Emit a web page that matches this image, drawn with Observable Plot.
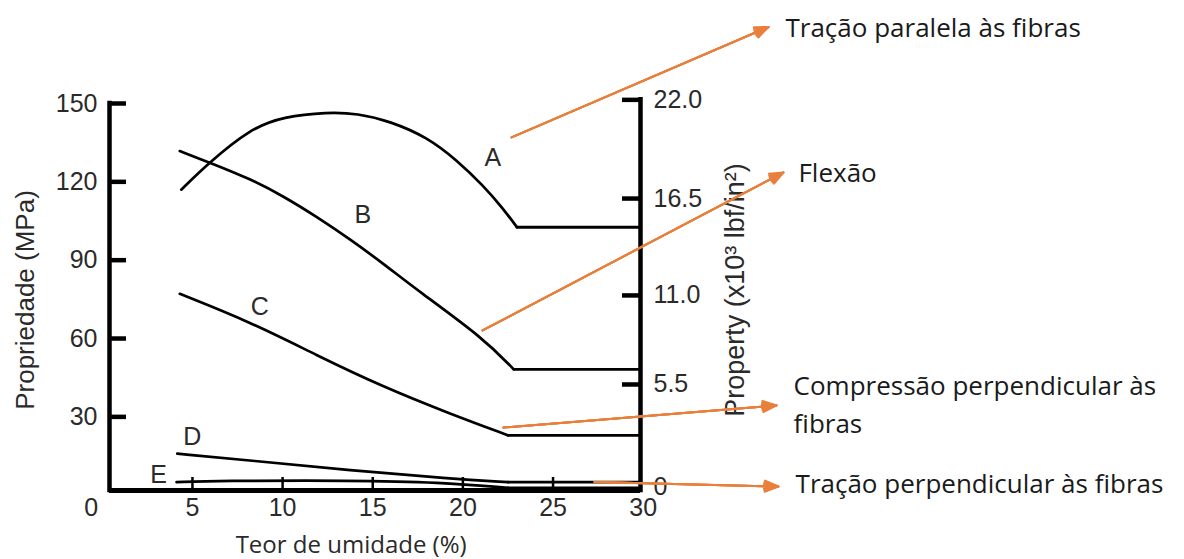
<!DOCTYPE html>
<html>
<head>
<meta charset="utf-8">
<script src="https://cdn.jsdelivr.net/npm/d3@7"></script>
<script src="https://cdn.jsdelivr.net/npm/@observablehq/plot@0.6"></script>
<style>
  html, body { margin: 0; padding: 0; background: #ffffff; }
  #chart svg { display: block; }
</style>
</head>
<body>
<div id="chart"></div>
<script>
// ---------- data ----------
const xDomain = [0.4, 29.85];          // moisture content (%) at left / right axis lines
const yDomain = [1.8, 150];            // MPa at baseline / top of left axis

const xTicks = [5, 10, 15, 20, 25];
const xLabelValues = [5, 10, 15, 20, 25, 30];
const xZeroLabel = [0];

const leftTicks = [30, 60, 90, 120, 150];

const rightTickLabels = ["0", "5.5", "11.0", "16.5", "22.0"];
const rightTickAt = [3.1, 42.4, 76.5, 113.6, 151.4];   // MPa position of each lbf/in² tick

// curve A: tração paralela às fibras
const aX = [4.38, 5.89, 8.22, 10.05, 12.49, 14.15, 15.97, 18.02, 19.68, 21.12, 22.23, 23.0, 29.85];
const aY = [117.0, 127.2, 140.4, 145.0, 146.7, 146.2, 143.2, 137.1, 128.2, 118.6, 109.8, 102.6, 102.6];
// curve B: flexão
const bX = [4.30, 5.91, 8.22, 10.07, 11.92, 13.77, 15.62, 17.47, 21.16, 22.82, 29.85];
const bY = [131.8, 127.5, 121.1, 114.4, 106.5, 97.9, 88.5, 78.5, 60.0, 48.2, 48.2];
// curve C
const cX = [4.30, 8.22, 11.91, 15.6, 19.29, 22.52, 29.85];
const cY = [77.1, 66.3, 53.5, 41.4, 31.2, 22.9, 22.9];
// curve D
const dX = [4.16, 8.22, 13.75, 19.29, 22.52, 29.85];
const dY = [15.9, 13.3, 9.5, 6.3, 5.0, 5.0];
// curve E
const eX = [4.12, 6.37, 13.75, 18.74, 22.5, 29.85];
const eY = [5.0, 5.6, 5.6, 5.0, 2.8, 2.8];

const curveNames = ["A", "B", "C", "D", "E"];
const curveLabelX = [21.66, 14.45, 8.73, 4.99, 3.12];
const curveLabelY = [129.1, 107.3, 72.2, 22.2, 7.66];

// orange annotation arrows and texts
const arrowX1 = [22.70, 21.09, 22.25, 27.3];
const arrowY1 = [137.0, 63.1, 25.9, 5.06];
const arrowX2 = [36.95, 37.78, 37.39, 37.5];
const arrowY2 = [179.3, 123.6, 34.4, 3.33];

const noteTexts = ["Tração paralela às fibras", "Flexão", "Compressão perpendicular às", "fibras", "Tração perpendicular às fibras"];
const noteX = [37.89, 38.61, 38.34, 38.34, 38.45];
const noteY = [178.6, 123.1, 41.4, 27.2, 4.2];

const xTitle = "Teor de umidade (%)";
const xTitleAt = 13.8;
const yTitleLeft = "Propriedade (MPa)";
const yTitleRight = "Property (x10³ lbf/in²)";

// ---------- build tables ----------
const seriesX = [aX, bX, cX, dX, eX];
const seriesY = [aY, bY, cY, dY, eY];
const curveRows = [];
const flatRows = [];
curveNames.forEach((name, i) => {
  const xs = seriesX[i], ys = seriesY[i], n = xs.length;
  for (let j = 0; j < n - 1; j++) curveRows.push({key: name, x: xs[j], y: ys[j]});
  for (let j = n - 2; j < n; j++) flatRows.push({key: name, x: xs[j], y: ys[j]});
});
const curveLabels = curveNames.map((t, i) => ({t, x: curveLabelX[i], y: curveLabelY[i]}));
const arrows = arrowX1.map((_, i) => ({x1: arrowX1[i], y1: arrowY1[i], x2: arrowX2[i], y2: arrowY2[i]}));
const notes = noteTexts.map((t, i) => ({t, x: noteX[i], y: noteY[i]}));
const rightTicks = rightTickLabels.map((t, i) => ({t, y: rightTickAt[i]}));

// ---------- layout ----------
const W = 1184, H = 559;
const mL = 109, mR = 544, mT = 103, mB = 69;
const plotW = W - mL - mR, plotH = H - mT - mB;

const sans = "Liberation Sans, Arial, Helvetica, sans-serif";
const noteFont = "Open Sans, Noto Sans, sans-serif";
const ink = "#2a2a2a";
const orange = "#e8803c";

// overlaid arrowheads of decreasing angle give a filled-looking triangle
const headAngles = [45, 32, 20, 8];
const arrowMarks = headAngles.map(a => Plot.arrow(arrows, {
  x1: "x1", y1: "y1", x2: "x2", y2: "y2", stroke: orange, strokeWidth: 2,
  headLength: 11, headAngle: a
}));

const chart = Plot.plot({
  width: W, height: H,
  marginLeft: mL, marginRight: mR, marginTop: mT, marginBottom: mB,
  x: {domain: xDomain, axis: null},
  y: {domain: yDomain, axis: null},
  style: {background: "#ffffff", overflow: "visible"},
  marks: [
    // curves
    Plot.line(curveRows, {x: "x", y: "y", z: "key", curve: "basis", stroke: "#000", strokeWidth: 2.7}),
    Plot.line(flatRows, {x: "x", y: "y", z: "key", stroke: "#000", strokeWidth: 2.9}),
    // axes lines
    Plot.ruleX([xDomain[0]], {y1: yDomain[0], y2: d3.max(leftTicks), stroke: "#000", strokeWidth: 4.5, strokeLinecap: "square"}),
    Plot.ruleX([xDomain[1]], {y1: yDomain[0], y2: d3.max(rightTickAt), stroke: "#000", strokeWidth: 4.5, strokeLinecap: "square"}),
    Plot.ruleY([yDomain[0]], {x1: xDomain[0], x2: xDomain[1], stroke: "#000", strokeWidth: 5}),
    // ticks
    Plot.tickY(leftTicks, {y: d => d, insetRight: plotW - 17, stroke: "#000", strokeWidth: 4.5}),
    Plot.tickY(rightTicks.slice(1), {y: "y", insetLeft: plotW - 18, stroke: "#000", strokeWidth: 4.5}),
    Plot.tickX(xTicks, {x: d => d, insetTop: plotH - 13, stroke: "#000", strokeWidth: 2.5}),
    // tick labels
    Plot.text(leftTicks, {y: d => d, text: d => String(d), frameAnchor: "left", dx: -12, textAnchor: "end",
      fontFamily: sans, fontSize: 25, fill: ink}),
    Plot.text(rightTicks, {y: "y", text: "t", frameAnchor: "right", dx: 13, textAnchor: "start",
      fontFamily: sans, fontSize: 25, fill: ink}),
    Plot.text(xLabelValues, {x: d => d, text: d => String(d), frameAnchor: "bottom", dy: 25,
      fontFamily: sans, fontSize: 25, fill: ink}),
    Plot.text(xZeroLabel, {x: d => d, text: d => String(d), frameAnchor: "bottom", dy: 25, dx: -11,
      fontFamily: sans, fontSize: 25, fill: ink}),
    // axis titles
    Plot.text([yTitleLeft], {text: d => d, frameAnchor: "left", dx: -84, dy: 3, rotate: -90, textAnchor: "middle",
      fontFamily: sans, fontSize: 26, fill: ink}),
    Plot.text([yTitleRight], {text: d => d, frameAnchor: "right", dx: 95, dy: -7, rotate: -90, textAnchor: "middle",
      fontFamily: sans, fontSize: 27, fill: ink}),
    Plot.text([xTitle], {x: () => xTitleAt, text: d => d, frameAnchor: "bottom", dy: 62,
      fontFamily: noteFont, fontSize: 24, fill: ink}),
    // curve letters
    Plot.text(curveLabels, {x: "x", y: "y", text: "t", fontFamily: sans, fontSize: 25, fill: ink}),
    // annotations
    ...arrowMarks,
    Plot.text(notes, {x: "x", y: "y", text: "t", textAnchor: "start", fontFamily: noteFont, fontSize: 26, fill: "#1a1a1a"})
  ]
});

document.getElementById("chart").appendChild(chart);
</script>
</body>
</html>
